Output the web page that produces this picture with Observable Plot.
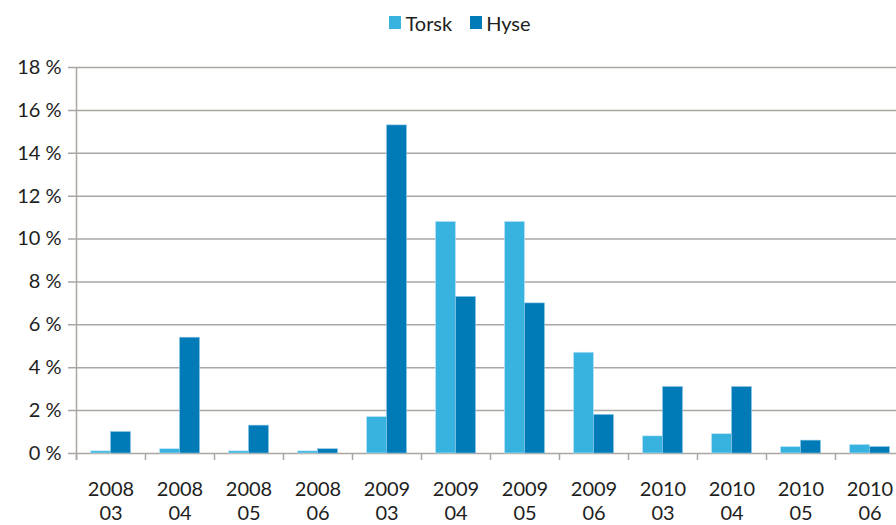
<!DOCTYPE html>
<html><head><meta charset="utf-8">
<script src="https://cdn.jsdelivr.net/npm/d3@7"></script>
<script src="https://cdn.jsdelivr.net/npm/@observablehq/plot@0.6"></script>
<style>
body{margin:0;background:#fff;font-family:Lato,"Open Sans",sans-serif;color:#1e1e1e;}
#legend{height:45px;display:flex;justify-content:center;align-items:center;padding-left:24px;box-sizing:border-box;font-size:20px;}
.item{display:flex;align-items:center;margin:0 9px;}
.sw{width:12px;height:13px;margin-right:4px;}
#chart svg{display:block;overflow:hidden;}
</style></head><body>
<div id="legend"></div>
<div id="chart"></div>
<script>
const periods = ["2008 03","2008 04","2008 05","2008 06","2009 03","2009 04","2009 05","2009 06","2010 03","2010 04","2010 05","2010 06"];
const torsk = [0.1, 0.2, 0.1, 0.1, 1.7, 10.8, 10.8, 4.7, 0.8, 0.9, 0.3, 0.4];
const hyse  = [1.0, 5.4, 1.3, 0.2, 15.3, 7.3, 7.0, 1.8, 3.1, 3.1, 0.6, 0.3];
const seriesNames = ["Torsk", "Hyse"];
const seriesColors = ["#38b3df", "#007bb8"];
const yTicks = [0, 2, 4, 6, 8, 10, 12, 14, 16, 18];

const legend = document.getElementById("legend");
seriesNames.forEach((s, i) => {
  const it = document.createElement("div"); it.className = "item";
  const sw = document.createElement("div"); sw.className = "sw"; sw.style.background = seriesColors[i];
  const t = document.createElement("span"); t.textContent = s;
  it.appendChild(sw); it.appendChild(t); legend.appendChild(it);
});

const rowsT = periods.map((p, i) => ({period: p, value: torsk[i]}));
const rowsH = periods.map((p, i) => ({period: p, value: hyse[i]}));
const gridColor = "#aaa7a3";

const chart = Plot.plot({
  width: 896,
  height: 480,
  marginTop: 22,
  marginBottom: 72,
  marginLeft: 75,
  marginRight: -8,
  style: {fontFamily: "Lato, 'Open Sans', sans-serif", color: "#1e1e1e", background: "#fff"},
  x: {domain: periods, padding: 0, label: null},
  y: {domain: [0, d3.max(yTicks)], label: null},
  marks: [
    Plot.ruleY(yTicks, {y: d => d, stroke: gridColor, strokeWidth: 1.5, insetLeft: -7}),
    Plot.ruleX([periods[0]], {x: d => d, y1: d3.max(yTicks), y2: 0, dx: -34.5, insetBottom: -7, stroke: gridColor, strokeWidth: 1.5}),
    Plot.ruleX(periods, {x: d => d, y1: 0, y2: 0, dx: -34.5, insetBottom: -7, stroke: gridColor, strokeWidth: 1.5}),
    Plot.barY(rowsT, {x: "period", y: "value", fill: seriesColors[0], insetLeft: 14.5, insetRight: 34.5, stroke: "#bfe6f5", strokeWidth: 0.6}),
    Plot.barY(rowsH, {x: "period", y: "value", fill: seriesColors[1], insetLeft: 34.5, insetRight: 14.5, stroke: "#8cc6e6", strokeWidth: 0.6}),
    Plot.axisY(yTicks, {tickSize: 0, tickPadding: 14, tickFormat: d => d + " %", fontSize: 20}),
    Plot.axisX({tickSize: 0, tickPadding: 25, tickFormat: d => d.replace(" ", "\n"), fontSize: 20, lineHeight: 1.2})
  ]
});
document.getElementById("chart").appendChild(chart);
</script>
</body></html>
